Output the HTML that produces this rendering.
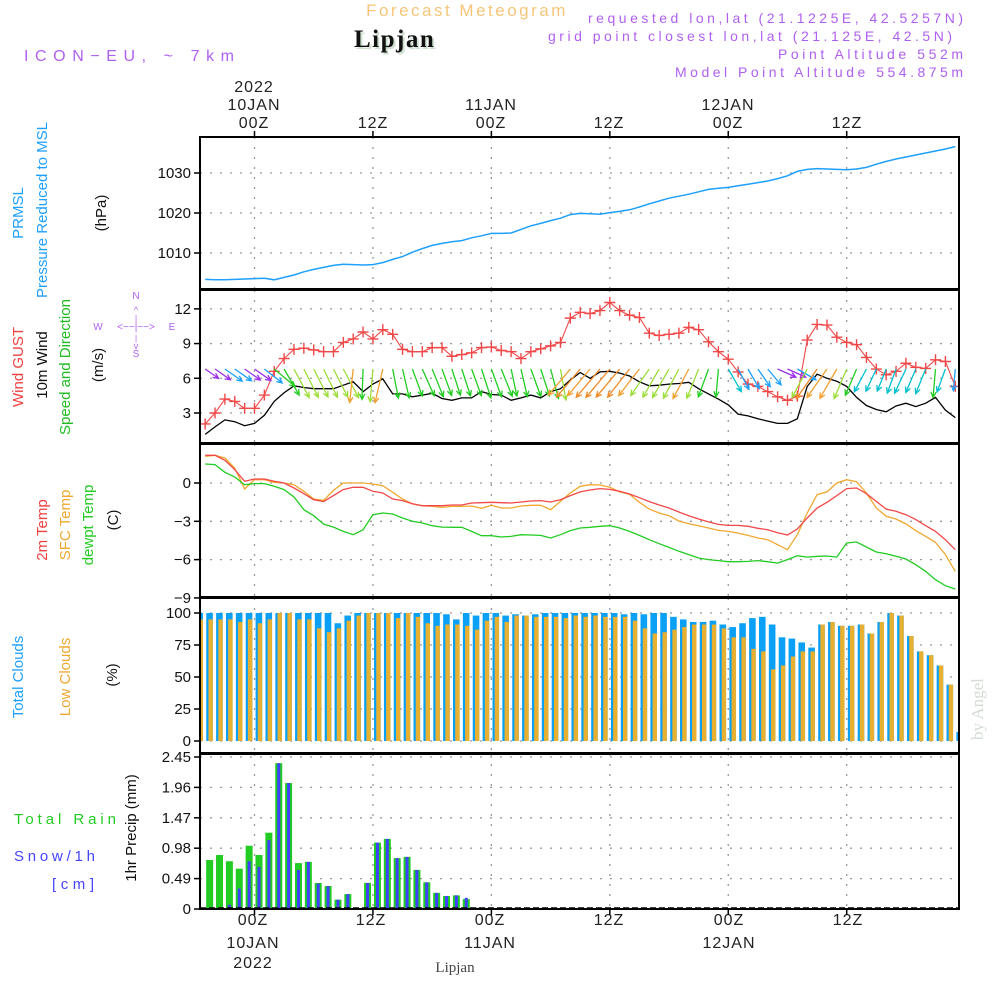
<!DOCTYPE html>
<html><head><meta charset="utf-8">
<style>
html,body{margin:0;padding:0;background:#fff;}
svg{display:block;font-family:"Liberation Sans",sans-serif;}
</style></head>
<body>
<svg id="chart" width="1000" height="1000" viewBox="0 0 1000 1000" xmlns="http://www.w3.org/2000/svg">
  <defs>
    <clipPath id="c1"><rect x="201" y="138" width="757" height="150"/></clipPath>
    <clipPath id="c2"><rect x="201" y="292" width="757" height="150"/></clipPath>
    <clipPath id="c3"><rect x="201" y="446" width="757" height="150"/></clipPath>
    <clipPath id="c4"><rect x="201" y="600" width="757" height="152"/></clipPath>
    <clipPath id="c5"><rect x="201" y="755" width="757" height="153"/></clipPath>
  </defs>
  <!-- headers -->
  <text x="467" y="16" font-size="17" fill="#f5c67a" text-anchor="middle" letter-spacing="2.5">Forecast Meteogram</text>
  <text x="356" y="49" font-size="25" font-weight="bold" font-family="Liberation Serif, serif" fill="#cfe0cf" letter-spacing="1.5">Lipjan</text>
  <text x="354" y="47" font-size="25" font-weight="bold" font-family="Liberation Serif, serif" fill="#111" letter-spacing="1.5">Lipjan</text>
  <text x="24" y="61" font-size="16" fill="#b060f0" textLength="210" lengthAdjust="spacing">ICON−EU, ~ 7km</text>
  <g fill="#b060f0" font-size="14" text-anchor="end">
    <text x="963" y="23" textLength="375" lengthAdjust="spacing">requested lon,lat (21.1225E, 42.5257N)</text>
    <text x="952" y="41" textLength="404" lengthAdjust="spacing">grid point closest lon,lat (21.125E, 42.5N)</text>
    <text x="963" y="59" textLength="185" lengthAdjust="spacing">Point Altitude 552m</text>
    <text x="963" y="77" textLength="288" lengthAdjust="spacing">Model Point Altitude 554.875m</text>
  </g>
  <!-- top time axis -->
  <g font-size="16" fill="#222" text-anchor="middle" letter-spacing="1">
    <text x="254" y="92">2022</text><text x="254" y="110">10JAN</text><text x="254" y="128">00Z</text>
    <text x="373" y="128">12Z</text>
    <text x="491" y="110">11JAN</text><text x="491" y="128">00Z</text>
    <text x="609" y="128">12Z</text>
    <text x="728" y="110">12JAN</text><text x="728" y="128">00Z</text>
    <text x="847" y="128">12Z</text>
  </g>
  <!-- bottom time axis -->
  <g font-size="16" fill="#222" text-anchor="middle" letter-spacing="1">
    <text x="253" y="925">00Z</text><text x="253" y="948">10JAN</text><text x="253" y="968">2022</text>
    <text x="371" y="925">12Z</text>
    <text x="490" y="925">00Z</text><text x="490" y="948">11JAN</text>
    <text x="609" y="925">12Z</text>
    <text x="729" y="925">00Z</text><text x="729" y="948">12JAN</text>
    <text x="848" y="925">12Z</text>
  </g>
  <text x="455" y="972" font-size="15" font-family="Liberation Serif, serif" fill="#444" text-anchor="middle">Lipjan</text>
  <text transform="translate(983,740) rotate(-90)" font-size="17" font-family="Liberation Serif, serif" fill="#d4dcd4">by Angel</text>

  <!-- left labels -->
  <g font-size="15" text-anchor="middle">
    <text transform="translate(23,213) rotate(-90)" fill="#1ea0ff">PRMSL</text>
    <text transform="translate(47,210) rotate(-90)" fill="#1ea0ff">Pressure Reduced to MSL</text>
    <text transform="translate(106,213) rotate(-90)" fill="#111">(hPa)</text>
    <text transform="translate(23,367) rotate(-90)" fill="#f04040">Wind GUST</text>
    <text transform="translate(47,365) rotate(-90)" fill="#111">10m Wind</text>
    <text transform="translate(70,367) rotate(-90)" fill="#22bb22">Speed and Direction</text>
    <text transform="translate(103,365) rotate(-90)" fill="#111">(m/s)</text>
    <text transform="translate(47,530) rotate(-90)" fill="#f04040">2m Temp</text>
    <text transform="translate(70,525) rotate(-90)" fill="#f0a830">SFC Temp</text>
    <text transform="translate(93,525) rotate(-90)" fill="#22cc22">dewpt Temp</text>
    <text transform="translate(118,520) rotate(-90)" fill="#111">(C)</text>
    <text transform="translate(23,677) rotate(-90)" fill="#1ea0ff">Total Clouds</text>
    <text transform="translate(70,677) rotate(-90)" fill="#f0a830">Low Clouds</text>
    <text transform="translate(117,675) rotate(-90)" fill="#111">(%)</text>
    <text transform="translate(136,828) rotate(-90)" fill="#111">1hr Precip (mm)</text>
  </g>
  <g font-size="15" letter-spacing="1">
    <text x="14" y="824" fill="#22cc22" textLength="103" lengthAdjust="spacing">Total  Rain</text>
    <text x="14" y="861" fill="#4444ff" textLength="82" lengthAdjust="spacing">Snow/1h</text>
    <text x="52" y="889" fill="#4444ff" textLength="43" lengthAdjust="spacing">[cm]</text>
  </g>
  <!-- compass -->
  <g fill="#b060f0" font-size="10" text-anchor="middle">
    <text x="136" y="299">N</text><text x="98" y="330">W</text><text x="172" y="330">E</text><text x="136" y="357">S</text>
    <text x="136" y="330" font-size="10">&lt;−−|−−&gt;</text>
    <text x="136" y="313" font-size="9">^</text><text x="136" y="321" font-size="8">|</text>
    <text x="136" y="341" font-size="8">|</text><text x="136" y="349" font-size="9">v</text>
  </g>

  <g id="grid"></g>
  <g id="marks"></g>
  <g id="frames" fill="none" stroke="#000" stroke-width="2"></g>
  <g id="ticks" font-size="15" fill="#111" text-anchor="end"></g>
</svg>
<script>
// ---------- data ----------
const hourStart = -5;
const pressure = [1003.4,1003.3,1003.3,1003.4,1003.5,1003.6,1003.7,1003.3,1003.9,1004.5,1005.3,1005.9,1006.4,1006.9,1007.2,1007.1,1007.0,1007.1,1007.6,1008.4,1009.1,1010.2,1011.1,1011.9,1012.4,1012.8,1013.1,1013.8,1014.3,1014.9,1014.9,1015.0,1015.9,1016.8,1017.4,1018.1,1018.7,1019.6,1019.9,1019.8,1019.7,1020.1,1020.4,1020.8,1021.5,1022.3,1023.0,1023.7,1024.2,1024.7,1025.3,1025.9,1026.2,1026.4,1026.8,1027.2,1027.6,1028.0,1028.6,1029.3,1030.4,1030.9,1031.1,1031.0,1030.9,1030.8,1031.0,1031.4,1032.2,1032.9,1033.5,1034.0,1034.5,1035.0,1035.5,1036.0,1036.6];
const gust = [2.05,3.0,4.2,4.0,3.4,3.4,4.55,6.6,7.7,8.5,8.6,8.45,8.3,8.3,9.1,9.4,10.0,9.4,10.2,9.8,8.5,8.3,8.3,8.65,8.65,7.9,8.05,8.2,8.65,8.7,8.4,8.3,7.7,8.3,8.55,8.8,9.1,11.2,11.7,11.6,11.85,12.55,11.85,11.45,11.25,9.9,9.7,9.8,9.9,10.4,10.2,9.15,8.3,7.65,6.55,5.5,5.3,4.85,4.4,4.1,4.45,9.3,10.65,10.6,9.55,9.1,8.9,7.8,6.8,6.3,6.6,7.3,6.95,6.85,7.6,7.45,5.3];
const wind = [1.15,1.8,2.4,2.25,1.9,2.1,2.8,4.0,4.75,5.35,5.2,5.1,5.1,5.1,5.4,5.7,4.85,5.5,5.95,4.65,4.65,4.4,4.55,4.7,4.25,4.1,4.3,4.3,4.85,4.6,4.55,4.1,4.3,4.55,4.3,4.85,5.1,5.85,6.5,6.0,6.55,6.6,6.45,6.2,5.7,5.35,5.4,5.5,5.55,5.65,5.1,4.65,4.2,3.7,2.9,2.75,2.5,2.3,2.1,2.1,2.5,5.3,6.35,6.0,5.75,5.3,4.35,3.65,3.3,3.1,3.6,3.85,3.55,3.85,4.35,3.25,2.6];
const windDir = [305,305,305,305,305,305,308,310,330,332,333,333,334,333,332,6,2,5,13,349,347,340,336,338,340,342,342,340,342,340,338,348,347,340,342,345,350,40,40,40,40,40,40,38,38,35,30,30,28,28,22,20,5,330,332,330,325,320,294,294,300,28,35,35,30,23,23,28,25,22,20,25,23,22,5,20,5];
const temp2m = [2.17,2.17,1.78,1.04,0.13,0.31,0.31,0.13,0,-0.39,-0.84,-1.31,-1.46,-0.99,-0.52,-0.34,-0.34,-0.65,-0.78,-1.25,-1.38,-1.62,-1.78,-1.78,-1.78,-1.72,-1.72,-1.57,-1.54,-1.51,-1.54,-1.57,-1.49,-1.41,-1.38,-1.49,-1.31,-0.99,-0.7,-0.55,-0.44,-0.5,-0.65,-0.86,-1.15,-1.46,-1.72,-1.96,-2.27,-2.56,-2.82,-3.05,-3.24,-3.32,-3.32,-3.39,-3.55,-3.66,-3.89,-4.07,-3.6,-2.74,-1.96,-1.51,-0.99,-0.44,-0.39,-0.84,-1.44,-2.04,-2.22,-2.48,-2.87,-3.34,-3.79,-4.44,-5.22];
const tempSfc = [2.09,2.17,1.96,1.17,-0.47,0.26,0.26,0.05,0,-0.13,-0.65,-1.25,-1.36,-0.57,0,0,0,-0.08,-0.21,-0.73,-1.25,-1.64,-1.78,-1.83,-1.91,-1.83,-1.83,-1.8,-1.98,-1.75,-1.96,-1.96,-1.8,-1.75,-1.75,-2.09,-1.44,-0.78,-0.26,-0.13,-0.16,-0.34,-0.7,-0.89,-1.51,-2.04,-2.35,-2.56,-2.98,-3.19,-3.34,-3.52,-3.71,-3.79,-3.92,-4.1,-4.31,-4.44,-4.83,-5.22,-4.05,-2.35,-0.91,-0.7,0,0.26,0.1,-0.78,-1.96,-2.61,-2.82,-3.21,-3.73,-4.18,-4.65,-5.61,-6.92];
const dewpt = [1.49,1.44,0.84,0.47,-0.13,-0.05,-0.05,-0.26,-0.52,-1.1,-2.09,-2.56,-3.21,-3.45,-3.79,-4.05,-3.66,-2.48,-2.35,-2.43,-2.74,-3.0,-3.13,-3.34,-3.45,-3.47,-3.47,-3.79,-4.13,-4.13,-4.23,-4.18,-4.05,-4.07,-4.1,-4.31,-4.05,-3.73,-3.52,-3.47,-3.39,-3.34,-3.52,-3.79,-4.1,-4.44,-4.75,-5.04,-5.35,-5.61,-5.87,-6.0,-6.08,-6.16,-6.16,-6.14,-6.08,-6.16,-6.27,-6.0,-5.69,-5.8,-5.74,-5.72,-5.8,-4.7,-4.62,-5.01,-5.4,-5.54,-5.74,-5.95,-6.4,-6.92,-7.57,-8.04,-8.3];
const cloudHourStart = -6;
const totalClouds = [100,100,100,100,100,100,100,100,100,100,100,100,100,100,92,98,100,100,100,100,100,100,100,100,100,99,95,100,98,100,100,98,99,98,99,100,100,100,100,100,100,100,100,99,100,99,100,100,97,95,93,93,94,91,89,92,96,97,91,81,80,77,73,91,93,90,90,91,84,93,100,98,82,70,67,59,44,7];
const lowClouds = [95,95,95,95,93,95,92,95,100,100,95,95,88,85,88,94,98,100,100,100,96,100,97,92,90,91,91,90,87,94,97,93,98,98,97,97,97,96,98,97,98,97,97,97,94,88,84,85,87,89,91,91,91,88,81,81,72,70,56,59,66,70,70,91,93,90,90,91,84,93,100,98,82,70,67,59,44,7];
const precipHourStart = -5;
const totalRain = [0.79,0.87,0.77,0.65,1.02,0.87,1.23,2.35,2.03,0.74,0.76,0.42,0.37,0.15,0.24,0,0.42,1.07,1.13,0.82,0.84,0.63,0.43,0.26,0.21,0.22,0.16,0.02];
const snow = [0,0,0.07,0.33,0.77,0.68,1.11,2.35,2.03,0.63,0.76,0.41,0.37,0.15,0.24,0,0.42,1.07,1.13,0.82,0.84,0.63,0.43,0.26,0.21,0.22,0.18,0.02];
const pressureTicks = [1010,1020,1030];
const windTicks = [3,6,9,12];
const tempTicks = [0,-3,-6,-9];
const cloudTicks = [0,25,50,75,100];
const precipTicks = [0,0.49,0.98,1.47,1.96,2.45];
const timeGridHours = [0,12,24,36,48,60];

// ---------- axes ----------
const X0 = 200, X1 = 959;
const xH = h => 254.5 + 9.87 * h;
const yP = v => 173 + (1030 - v) * 4;
const yW = v => 447.7 - v * 11.57;
const yT = v => 483 - v * 12.77;
const yC = v => 741 - v * 1.28;
const yR = v => 909 - v * 62.04;
const panels = [
  {top:137,bot:289,ticks:pressureTicks,y:yP,fmt:v=>String(v),name:'pressure'},
  {top:290,bot:443,ticks:windTicks,y:yW,fmt:v=>String(v),name:'wind'},
  {top:444,bot:597,ticks:tempTicks,y:yT,fmt:v=>v<0?'−'+Math.abs(v):String(v),name:'temperature'},
  {top:598,bot:753,ticks:cloudTicks,y:yC,fmt:v=>String(v),name:'clouds'},
  {top:754,bot:909,ticks:precipTicks,y:yR,fmt:v=>v===0?'0':v.toFixed(2),name:'precip'}
];
const NS = 'http://www.w3.org/2000/svg';
function mk(tag, attrs, parent) {
  const e = document.createElementNS(NS, tag);
  for (const k in attrs) e.setAttribute(k, attrs[k]);
  parent.appendChild(e);
  return e;
}
const grid = document.getElementById('grid');
const marks = document.getElementById('marks');
const frames = document.getElementById('frames');
const ticks = document.getElementById('ticks');

panels.forEach(p => {
  const r = mk('rect', {x:X0, y:p.top, width:X1-X0, height:p.bot-p.top}, frames);
  
  
  p.ticks.forEach(v => {
    const y = p.y(v);
    const g = mk('line', {x1:X0, x2:X1, y1:y, y2:y, stroke:'#999', 'stroke-width':1.3, 'stroke-dasharray':'2,8'}, grid);
    
    
    const tk = mk('line', {x1:X0-6, x2:X0, y1:y, y2:y, stroke:'#000', 'stroke-width':1.5}, frames);
    
    
    const t = mk('text', {x:X0-9, y:y+5}, ticks);
    t.textContent = p.fmt(v);
    
    
  });
  timeGridHours.forEach(h => {
    const x = xH(h);
    const g = mk('line', {x1:x, x2:x, y1:p.top, y2:p.bot, stroke:'#999', 'stroke-width':1.3, 'stroke-dasharray':'2,8'}, grid);
    
    
  });
});
timeGridHours.forEach(h => {
  const x = xH(h);
  const a = mk('line', {x1:x, x2:x, y1:131, y2:137, stroke:'#000', 'stroke-width':1.5}, frames);
  
  
  const b = mk('line', {x1:x, x2:x, y1:909, y2:915, stroke:'#000', 'stroke-width':1.5}, frames);
  
  
});

function line(vals, yf, color, w, clip, name) {
  const pts = vals.map((v, i) => xH(hourStart + i).toFixed(1) + ',' + yf(v).toFixed(1)).join(' ');
  const pl = mk('polyline', {points:pts, fill:'none', stroke:color, 'stroke-width':w, 'clip-path':'url(#' + clip + ')'}, marks);
  
  
  return pl;
}

// pressure
line(pressure, yP, '#1ea0ff', 1.5, 'c1', 'pressure-line');

// wind speed
line(wind, yW, '#000', 1.3, 'c2', 'wind-speed-line');
// gust line + markers
line(gust, yW, '#f04848', 1.1, 'c2', 'wind-gust-line');
gust.forEach((v, i) => {
  const x = xH(hourStart + i), y = yW(v);
  const m = mk('path', {d:`M${x-5.5},${y}H${x+5.5}M${x},${y-5.5}V${y+5.5}`, stroke:'#f04848', 'stroke-width':1.4, fill:'none', 'clip-path':'url(#c2)'}, marks);
  
  
});
// wind arrows
function windColor(s) {
  if (s < 2.2) return '#9a30e8';
  if (s < 3.0) return '#1ea0ff';
  if (s < 3.9) return '#00c0d0';
  if (s < 5.0) return '#22cc22';
  if (s < 5.6) return '#9ddd3a';
  if (s < 6.2) return '#f0a030';
  return '#f08a28';
}
windDir.forEach((d, i) => {
  const s = wind[i];
  const to = (d + 180) * Math.PI / 180;
  const len = Math.min(38, 12 + 3.8 * s);
  const ux = Math.sin(to), uy = -Math.cos(to);
  const x0 = xH(hourStart + i), y0 = 369;
  const x1 = x0 + ux * len, y1 = y0 + uy * len;
  const hx1 = x1 - 6 * (ux * Math.cos(0.45) - uy * Math.sin(0.45));
  const hy1 = y1 - 6 * (uy * Math.cos(0.45) + ux * Math.sin(0.45));
  const hx2 = x1 - 6 * (ux * Math.cos(-0.45) - uy * Math.sin(-0.45));
  const hy2 = y1 - 6 * (uy * Math.cos(-0.45) + ux * Math.sin(-0.45));
  const a = mk('path', {d:`M${x0},${y0}L${x1},${y1}M${hx1},${hy1}L${x1},${y1}L${hx2},${hy2}`, stroke:windColor(s), 'stroke-width':1.3, fill:'none', 'clip-path':'url(#c2)'}, marks);
  
  
});

// temperatures
line(tempSfc, yT, '#f0a830', 1.3, 'c3', 'sfc-temp-line');
line(temp2m, yT, '#f04848', 1.3, 'c3', '2m-temp-line');
line(dewpt, yT, '#22cc22', 1.3, 'c3', 'dewpt-line');

// clouds
totalClouds.forEach((v, i) => {
  const c = xH(cloudHourStart + i) + 4.5;
  const b = mk('rect', {x:c-3.4, y:yC(v), width:6.6, height:yC(0)-yC(v), fill:'#0aa0f5', 'clip-path':'url(#c4)'}, marks);
  
  
  const lv = lowClouds[i];
  const o = mk('rect', {x:c-1.2, y:yC(lv), width:4.4, height:yC(0)-yC(lv), fill:'#e8b030', 'clip-path':'url(#c4)'}, marks);
  
  
});

// precip
totalRain.forEach((v, i) => {
  const c = xH(precipHourStart + i) + 4.5;
  if (v > 0) {
    const g = mk('rect', {x:c-3.5, y:yR(v), width:7, height:yR(0)-yR(v), fill:'#22cc22', 'clip-path':'url(#c5)'}, marks);
    
    
  }
  const sv = snow[i];
  if (sv > 0) {
    const b = mk('rect', {x:c-1.5, y:yR(sv), width:3, height:yR(0)-yR(sv), fill:'#4040ff', 'clip-path':'url(#c5)'}, marks);
    
    
  }
});
const base = mk('line', {x1:X0, x2:X1, y1:908, y2:908, stroke:'#000', 'stroke-width':1.5, 'stroke-dasharray':'6,3'}, marks);


</script>
</body></html>
